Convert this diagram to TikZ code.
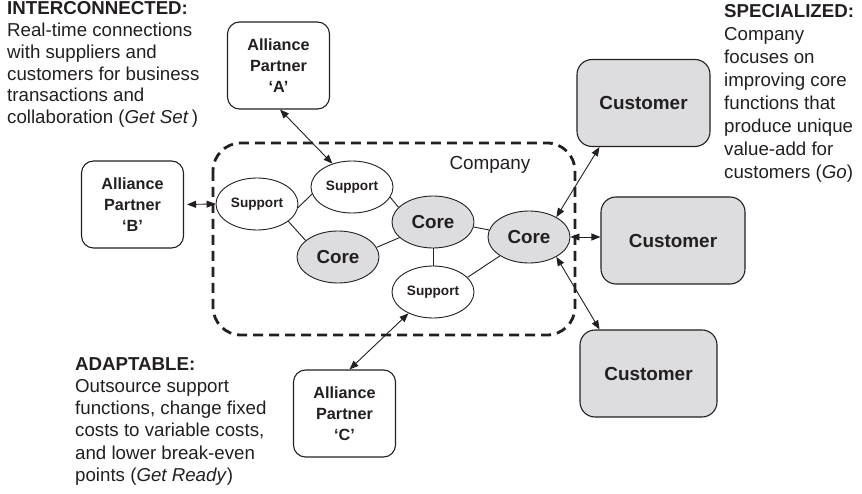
\documentclass[tikz,border=0pt]{standalone}
\usepackage{fontspec}
\setmainfont{Liberation Sans}
\usetikzlibrary{arrows.meta,shapes.geometric,calc}
\definecolor{ink}{HTML}{231F20}\definecolor{boxgray}{HTML}{DDDDDF}
\tikzset{partner/.style={draw=ink,line width=1.1pt,rounded corners=12pt,fill=white,align=center,minimum width=102pt,minimum height=87pt,inner sep=0pt,font=\fontsize{16.2}{21}\selectfont\bfseries},customer/.style={draw=ink,line width=1.1pt,rounded corners=15pt,fill=boxgray,minimum height=87pt,inner sep=0pt,font=\fontsize{18.9}{22}\selectfont\bfseries},support/.style={ellipse,draw=ink,line width=0.9pt,fill=white,minimum width=82pt,minimum height=52pt,inner sep=0pt,font=\fontsize{13.6}{16}\selectfont\bfseries},core/.style={support,fill=boxgray,font=\fontsize{18.8}{22}\selectfont\bfseries},link/.style={draw=ink,line width=0.9pt},twoway/.style={{Triangle[length=9pt,width=7pt]}-{Triangle[length=9pt,width=7pt]},draw=ink,line width=0.9pt},note/.style={anchor=base west,align=left,inner sep=0pt,text=ink}}

\begin{document}
\begin{tikzpicture}[x=1pt,y=-1pt,text=ink]
\useasboundingbox (0,0) rectangle (862,494);
% company boundary
\draw[ink,line width=2.8pt,dash pattern=on 10pt off 6pt,rounded corners=28pt] (213,143) rectangle (575,335);
\node[anchor=base,font=\fontsize{18.9}{22}\selectfont] (comp) at (490,170) {Company};
\node[support] (sup1) at (257,204) {Support};\node[support] (sup2) at (352,187) {Support};
\node[support] (sup3) at (433,292) {Support};
\node[core] (core1) at (338,257) {Core};\node[core] (core2) at (433,222) {Core};\node[core] (core3) at (529,237) {Core};
\foreach \a/\b in {sup1.-5/sup2.190,sup1.-29/core1.153,sup2.-15/core2.157,core1.14/core2.205,core2.-7/core3.170,core2.south/sup3.north,sup3.23/core3.213}
  \draw[link] (\a) -- (\b);
% partners and customers
\node[partner] (partA) at (278.5,65.5) {Alliance\\Partner\\‘A’};
\node[partner] (partB) at (132.5,204.5) {Alliance\\Partner\\‘B’};
\node[partner] (partC) at (344.5,413.5) {Alliance\\Partner\\‘C’};
\node[customer,minimum width=133pt] (cust1) at (643.5,103) {Customer};
\node[customer,minimum width=144pt] (cust2) at (673,240.5) {Customer};
\node[customer,minimum width=137pt] (cust3) at (648.5,373.5) {Customer};
\draw[twoway] ($(partA.south)+(1.5,0)$) -- (sup2.130);
\draw[twoway,shorten <=3pt] (partB.east) -- (sup1.west);
\draw[twoway] ($(partC.north)+(5,0)$) -- (sup3.221);
\draw[twoway] (core3.36) -- (cust1.225);
\draw[twoway] (core3.east) -- (core3.east -| cust2.west);
\draw[twoway] (core3.-36) -- (cust3.138);
% notes (anchored at the last line)
\node[note,font=\fontsize{18.7}{21.7}\selectfont] (inter) at (7,123.5) {\textbf{INTERCONNECTED:}\\Real-time connections\\with suppliers and\\customers for business\\transactions and\\collaboration (\textit{Get Set}\,)};
\node[note,font=\fontsize{18.7}{23}\selectfont] (spec) at (724,179) {\textbf{SPECIALIZED:}\\Company\\focuses on\\improving core\\functions that\\produce unique\\value-add for\\customers (\textit{Go})};
\node[note,font=\fontsize{18.7}{22.3}\selectfont] (adapt) at (75,481.5) {\textbf{ADAPTABLE:}\\Outsource support\\functions, change fixed\\costs to variable costs,\\and lower break-even\\points (\textit{Get Ready})};
\end{tikzpicture}
\end{document}
